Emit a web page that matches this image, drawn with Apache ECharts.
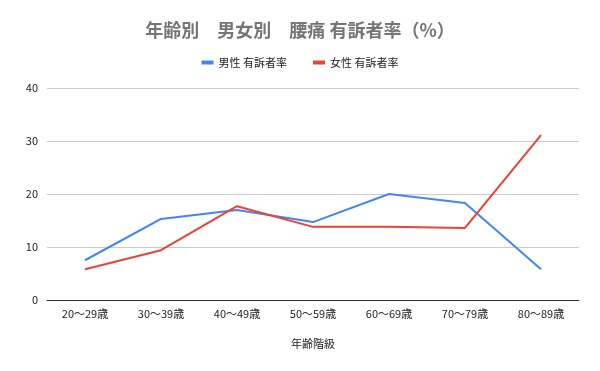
<!DOCTYPE html>
<html><head><meta charset="utf-8">
<script src="https://cdn.jsdelivr.net/npm/echarts@6/dist/echarts.min.js"></script>
<style>html,body{margin:0;padding:0;background:#fff}#c{width:600px;height:371px}</style>
</head><body><div id="c"></div>
<script>
const categories = ['20～29歳','30～39歳','40～49歳','50～59歳','60～69歳','70～79歳','80～89歳'];
const maleRate = [7.5, 15.3, 17.0, 14.7, 20.0, 18.3, 5.8];
const femaleRate = [5.8, 9.4, 17.7, 13.8, 13.8, 13.6, 31.1];
const seriesNames = ['男性 有訴者率', '女性 有訴者率'];
const yTicks = {min: 0, max: 40, interval: 10};

const font = '"Noto Sans CJK JP", Roboto, sans-serif';
const chart = echarts.init(document.getElementById('c'));
chart.setOption({
  animation: false,
  title: {text: '年齢別　男女別　腰痛 有訴者率（%）', left: 'center', top: 16,
    textStyle: {fontFamily: font, fontSize: 18, fontWeight: 'bold', color: '#757575'}},
  legend: {top: 52, left: 'center', itemWidth: 12, itemHeight: 4, itemGap: 26, icon: 'rect',
    textStyle: {fontFamily: font, fontSize: 11, color: '#222'}},
  grid: {left: 47, right: 21, top: 88, bottom: 71},
  xAxis: {type: 'category', data: categories, boundaryGap: true,
    name: '年齢階級', nameLocation: 'middle', nameGap: 38,
    nameTextStyle: {fontFamily: font, fontSize: 11, color: '#222'},
    axisLine: {lineStyle: {color: '#333'}}, axisTick: {show: false},
    axisLabel: {fontFamily: font, fontSize: 11, color: '#222', margin: 8}},
  yAxis: {type: 'value', min: yTicks.min, max: yTicks.max, interval: yTicks.interval,
    axisLabel: {fontFamily: font, fontSize: 11, color: '#222', margin: 9},
    splitLine: {lineStyle: {color: '#ccc'}}},
  series: [
    {name: seriesNames[0], type: 'line', data: maleRate, color: '#4285F4', symbol: 'none', lineStyle: {width: 2}},
    {name: seriesNames[1], type: 'line', data: femaleRate, color: '#EA4335', symbol: 'none', lineStyle: {width: 2}}
  ]
});
</script></body></html>
